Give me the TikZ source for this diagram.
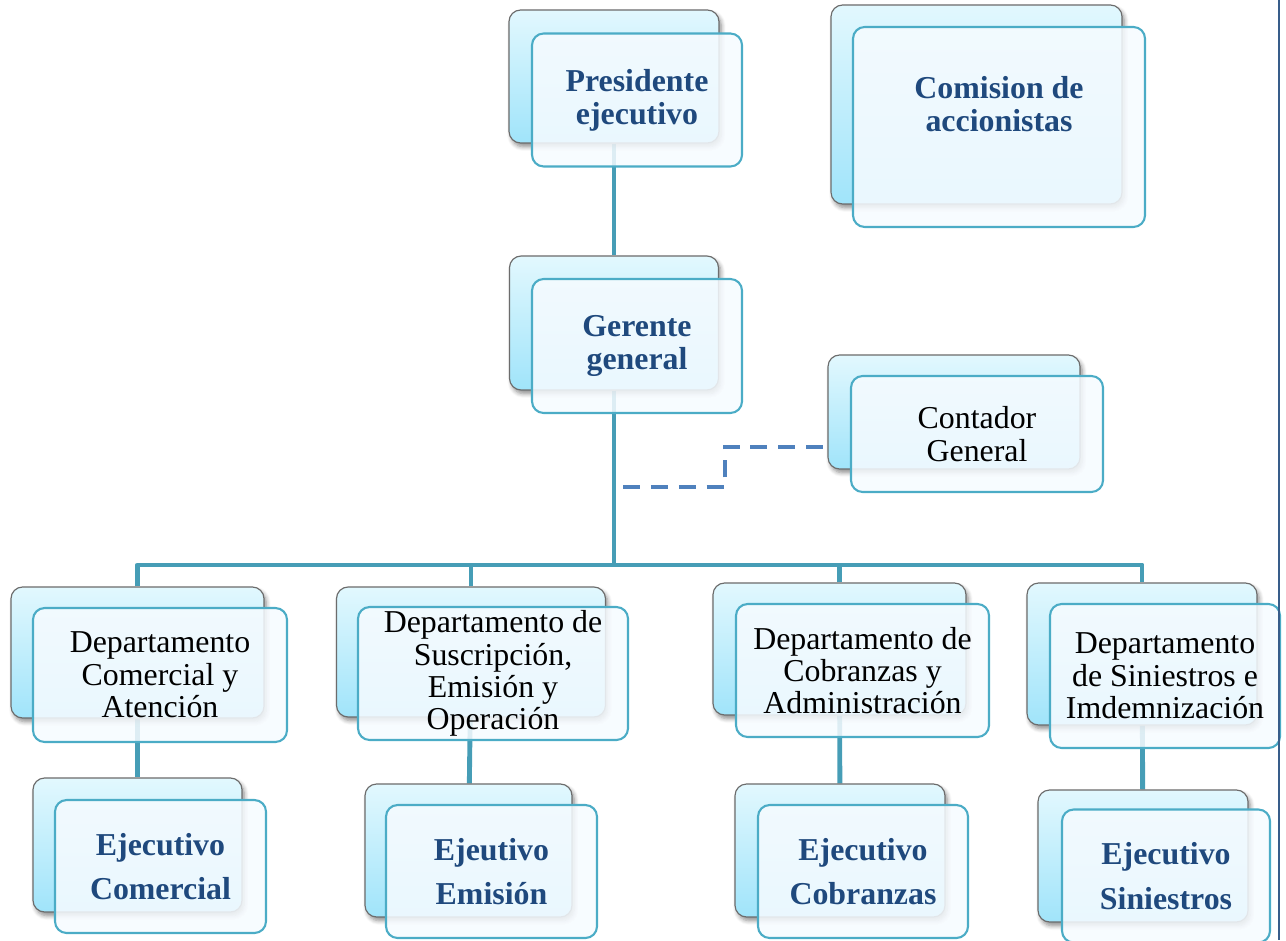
\documentclass[tikz,border=0pt]{standalone}
\usepackage{fontspec}
\setmainfont{Liberation Serif}
\usetikzlibrary{backgrounds,shadows.blur}
\definecolor{orgteal}{RGB}{75,172,198}
\definecolor{orgline}{RGB}{70,157,182}
\definecolor{orgdash}{RGB}{79,129,189}
\definecolor{orgnavy}{RGB}{31,73,125}
\definecolor{orgtop}{RGB}{226,248,254}
\definecolor{orgbot}{RGB}{160,228,250}
\definecolor{orgfill}{RGB}{246,251,255}
\definecolor{orgedge}{RGB}{56,93,138}

\begin{document}
\begin{tikzpicture}[x=0.43pt,y=-0.43pt,
 bw/.style={minimum width=#1*0.43pt},
 bh/.style={minimum height=#1*0.43pt},
 backbox/.style={rectangle,rounded corners=5pt,inner sep=0pt,draw=gray!85!black,line width=0.5pt,
  top color=orgtop,bottom color=orgbot,
  blur shadow={shadow xshift=1pt,shadow yshift=-1.6pt,shadow blur steps=6,shadow opacity=45}},
 frontbox/.style={rectangle,rounded corners=5pt,inner sep=0pt,draw=orgteal,line width=0.9pt,
  fill=orgfill,fill opacity=0.86,text opacity=1,align=center},
 boss/.style={font=\fontsize{13.7}{14.2}\selectfont\bfseries,text=orgnavy},
 dept/.style={font=\fontsize{13.7}{13.9}\selectfont,text=black},
 exec/.style={font=\fontsize{13.7}{19}\selectfont\bfseries,text=orgnavy},
 conn/.style={draw=orgline,line width=2.1pt,line join=round},
 dashconn/.style={draw=orgdash,line width=1.7pt,dash pattern=on 7.3pt off 4.7pt}]
\useasboundingbox (0,0) rectangle (1286,940);
\clip (0,0) rectangle (1286,940);

\node[backbox,bw=210,bh=133] (pres-b) at (614,76.5) {};
\node[frontbox,boss,bw=210,bh=133] (pres) at (637,100) {Presidente\\ejecutivo};
\node[backbox,bw=291,bh=199] (com-b) at (976.5,104.5) {};
\node[frontbox,boss,bw=292,bh=200,text depth=20pt] (com) at (999,127) {Comision de\\accionistas};
\node[backbox,bw=209,bh=134] (ger-b) at (614,323) {};
\node[frontbox,boss,bw=210,bh=134] (ger) at (637,346) {Gerente\\general};
\node[backbox,bw=252,bh=114] (cont-b) at (954,412) {};
\node[frontbox,dept,bw=252,bh=116] (cont) at (977,434) {Contador\\General};

\node[backbox,bw=253,bh=131] (dcom-b) at (137.5,652.5) {};
\node[frontbox,dept,bw=254,bh=134] (dcom) at (160,675) {Departamento\\Comercial y\\Atención};
\node[backbox,bw=269,bh=130] (dsus-b) at (471,652) {};
\node[frontbox,dept,bw=270,bh=133] (dsus) at (493,673.5) {Departamento de\\Suscripción,\\Emisión y\\Operación};
\node[backbox,bw=253,bh=132] (dcob-b) at (839.5,649) {};
\node[frontbox,dept,bw=253,bh=133] (dcob) at (862.5,670.5) {Departamento de\\Cobranzas y\\Administración};
\node[backbox,bw=230,bh=142] (dsin-b) at (1142,654) {};
\node[frontbox,dept,bw=230,bh=144] (dsin) at (1165,676) {Departamento\\de Siniestros e\\Imdemnización};

\node[backbox,bw=209,bh=134] (ecom-b) at (137.5,845) {};
\node[frontbox,exec,bw=211,bh=133] (ecom) at (160.5,866.5) {Ejecutivo\\Comercial};
\node[backbox,bw=207,bh=133] (eemi-b) at (468.5,850.5) {};
\node[frontbox,exec,bw=211,bh=133] (eemi) at (491.5,871.5) {Ejeutivo\\Emisión};
\node[backbox,bw=210,bh=133] (ecob-b) at (840,850.5) {};
\node[frontbox,exec,bw=210,bh=133] (ecob) at (863,871.5) {Ejecutivo\\Cobranzas};
\node[backbox,bw=210,bh=132] (esin-b) at (1143,856) {};
\node[frontbox,exec,bw=208,bh=133] (esin) at (1166,876) {Ejecutivo\\Siniestros};

\coordinate (bus) at (614,565);
\coordinate (dash0) at (623,487);
\coordinate (dashkink) at (725,487);
\begin{scope}[on background layer]
\draw[conn] (pres-b) -- (ger-b) -- (bus);
\draw[conn] (dcom-b) |- (bus) -| (dsin-b);
\draw[conn] (dsus-b) -- (dsus-b |- bus);
\draw[conn] (dcob-b) -- (dcob-b |- bus);
\draw[conn] (dcom-b) -- (ecom-b);
\draw[conn] (dsus-b) -- (eemi-b);
\draw[conn] (dcob-b) -- (ecob-b);
\draw[conn] (dsin-b) -- (esin-b);
\draw[dashconn] (dash0) -- (dashkink) |- (cont-b.west |- 0,447);
\end{scope}
\draw[orgedge,line width=0.8pt] (1279,0) -- (1279,940);
\end{tikzpicture}
\end{document}
